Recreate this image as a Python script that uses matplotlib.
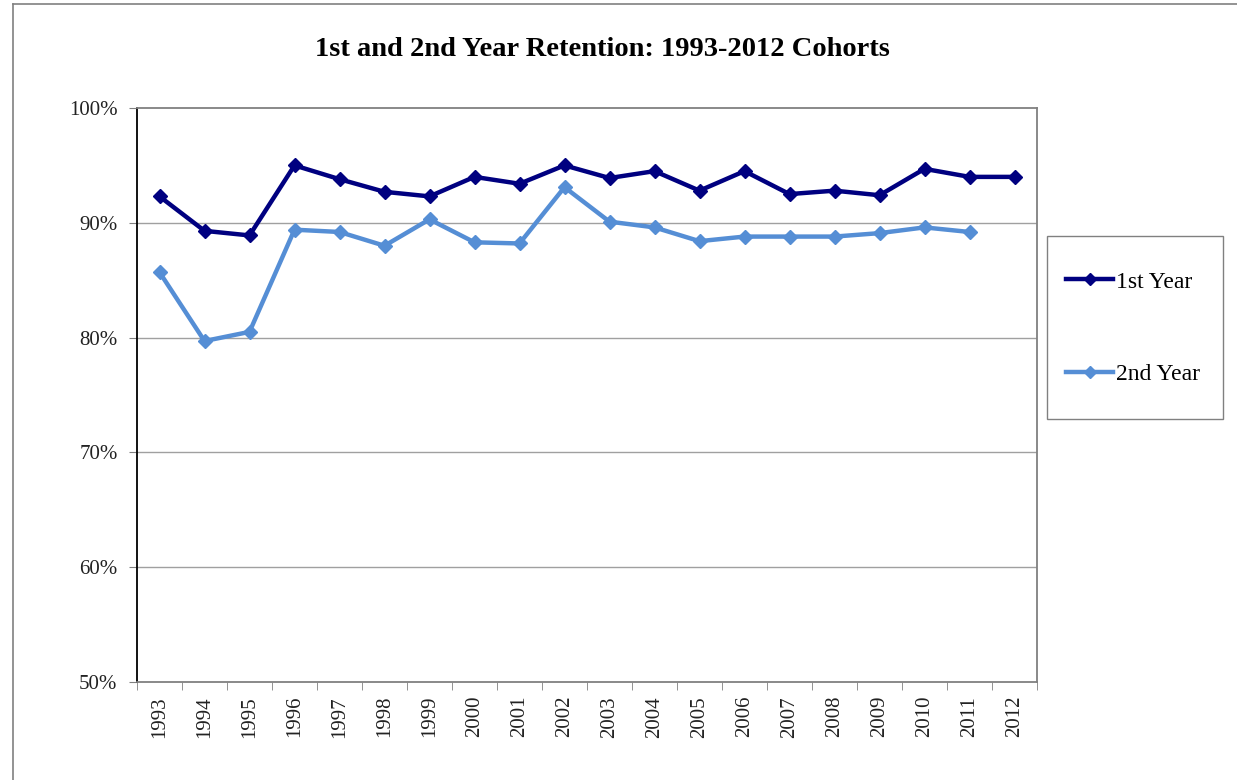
import matplotlib.pyplot as plt
import numpy as np
from matplotlib.lines import Line2D
from matplotlib.patches import Rectangle

YEARS = [str(y) for y in range(1993, 2013)]

FIRST_YEAR = [92.3, 89.3, 88.9, 95.0, 93.8, 92.7, 92.3, 94.0, 93.4, 95.0,
              93.9, 94.5, 92.8, 94.5, 92.5, 92.8, 92.4, 94.7, 94.0, 94.0]
SECOND_YEAR = [85.7, 79.7, 80.5, 89.4, 89.2, 88.0, 90.3, 88.3, 88.2, 93.1,
               90.1, 89.6, 88.4, 88.8, 88.8, 88.8, 89.1, 89.6, 89.2, np.nan]

Y_TICKS = [50, 60, 70, 80, 90, 100]

DARK = "#000080"
LIGHT = "#558ED5"

W, H = 1237, 780


def main() -> None:
    plt.rcParams["font.family"] = ["Liberation Serif", "DejaVu Serif"]

    fig = plt.figure(figsize=[W / 100, H / 100], dpi=100)
    # outer chart-area border: only top and left edges are visible
    fig.add_artist(Line2D([13 / W, 1], [1 - 4 / H, 1 - 4 / H], transform=fig.transFigure,
                          color="#808080", linewidth=1.2))
    fig.add_artist(Line2D([13 / W, 13 / W], [0, 1 - 4 / H], transform=fig.transFigure,
                          color="#808080", linewidth=1.2))

    ax = fig.add_axes([137 / W, 1 - 682 / H, 900 / W, 574 / H])
    x = np.arange(len(YEARS))

    ax.plot(x, FIRST_YEAR, color=DARK, linewidth=3.2, marker="D", markersize=7.5,
            label="1st Year")
    ax.plot(x, SECOND_YEAR, color=LIGHT, linewidth=3.2, marker="D", markersize=7.5,
            label="2nd Year")

    ax.set_xlim(-0.5, len(YEARS) - 0.5)
    ax.set_ylim(50, 100)
    ax.set_yticks(Y_TICKS)
    ax.set_yticklabels([f"{v}%" for v in Y_TICKS], fontsize=15, color="#222222")
    ax.set_xticks(x)
    ax.set_xticklabels(YEARS, rotation=90, fontsize=15, color="#222222")
    ax.tick_params(axis="x", length=0, pad=10)
    ax.set_xticks(np.arange(len(YEARS) + 1) - 0.5, minor=True)
    ax.tick_params(axis="x", which="minor", length=6, color="#808080", direction="out")
    ax.tick_params(axis="y", length=6, color="#808080", direction="out", pad=8)

    for v in Y_TICKS[1:-1]:
        ax.axhline(v, color="#A0A0A0", linewidth=1.0, zorder=0)

    ax.spines["left"].set_color("black")
    ax.spines["left"].set_linewidth(1.3)
    for s in ["top", "right", "bottom"]:
        ax.spines[s].set_color("#808080")
        ax.spines[s].set_linewidth(1.3)

    fig.text(602 / W, 1 - 50 / H, "1st and 2nd Year Retention: 1993-2012 Cohorts",
             ha="center", va="center", fontsize=20.5, fontweight="bold")

    fig.add_artist(Rectangle((1047 / W, 1 - 419 / H), 176 / W, 183 / H,
                             transform=fig.transFigure, fill=False,
                             edgecolor="#808080", linewidth=1.0))
    fig.legend(loc="center left", bbox_to_anchor=(1066 / W, 1 - 328 / H),
               bbox_transform=fig.transFigure, frameon=False, fontsize=17,
               labelspacing=3.0, borderpad=0, handlelength=2.0,
               handletextpad=0.1, borderaxespad=0, markerscale=0.8)

    fig.savefig("out.png", dpi=100)


if __name__ == '__main__':
    main()
